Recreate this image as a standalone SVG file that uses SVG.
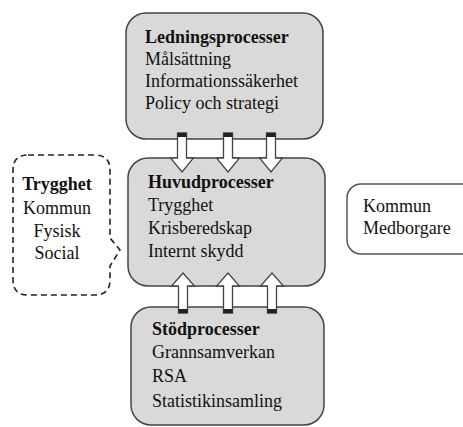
<svg xmlns="http://www.w3.org/2000/svg" width="463" height="427" viewBox="0 0 463 427">
  <style>
    .box { fill: #d9d9d9; stroke: #444; stroke-width: 1.5; }
    .plain { fill: #fff; stroke: #555; stroke-width: 1.5; }
    .bubble { fill: #fff; stroke: #222; stroke-width: 1.6; stroke-dasharray: 6 4; }
    .arrow { fill: #fff; stroke: #444; stroke-width: 1.3; stroke-linejoin: miter; }
    .cap { fill: #222; }
    text { font-family: "Liberation Serif", "Times New Roman", serif; font-size: 18px; fill: #111; }
    .b { font-weight: bold; }
  </style>
  <defs>
    <!-- block arrow pointing down, origin at shaft top centre -->
    <g id="downArrow">
      <path class="arrow" d="M -4.5,0 H 4.5 V 25 H 11.5 L 0,39 L -11.5,25 H -4.5 Z"/>
      <rect class="cap" x="-4.5" y="0" width="9" height="4"/>
    </g>
    <!-- block arrow pointing up, origin at shaft bottom centre -->
    <g id="upArrow">
      <path class="arrow" d="M -4.5,0 H 4.5 V -27 H 11.5 L 0,-40 L -11.5,-27 H -4.5 Z"/>
      <rect class="cap" x="-4.5" y="-4" width="9" height="4"/>
    </g>
  </defs>

  <g id="ledning">
    <rect class="box" x="126" y="13" width="197" height="126" rx="20"/>
    <text class="b" x="145" y="43">Ledningsprocesser</text>
    <text x="145" y="65">Målsättning</text>
    <text x="145" y="87">Informationssäkerhet</text>
    <text x="145" y="109">Policy och strategi</text>
  </g>

  <g id="huvud">
    <rect class="box" x="128" y="158" width="197" height="128" rx="20"/>
    <text class="b" x="148" y="188">Huvudprocesser</text>
    <text x="148" y="211">Trygghet</text>
    <text x="148" y="234">Krisberedskap</text>
    <text x="148" y="257">Internt skydd</text>
  </g>

  <g id="stod">
    <rect class="box" x="131" y="307" width="193" height="118" rx="20"/>
    <text class="b" x="152" y="335">Stödprocesser</text>
    <text x="152" y="358">Grannsamverkan</text>
    <text x="152" y="382">RSA</text>
    <text x="152" y="407">Statistikinsamling</text>
  </g>

  <g id="trygghet">
    <path class="bubble" d="M 28,155 H 95 Q 110,155 110,170 V 238 L 120,250 L 110,266 V 280 Q 110,295 95,295 H 28 Q 13,295 13,280 V 170 Q 13,155 28,155 Z"/>
    <text class="b" x="57" y="190" text-anchor="middle">Trygghet</text>
    <text x="57" y="214" text-anchor="middle">Kommun</text>
    <text x="57" y="237" text-anchor="middle">Fysisk</text>
    <text x="57" y="259" text-anchor="middle">Social</text>
  </g>

  <g id="kommun">
    <rect class="plain" x="347" y="184" width="130" height="70" rx="14"/>
    <text x="363" y="212">Kommun</text>
    <text x="363" y="234">Medborgare</text>
  </g>

  <g id="connectors">
    <use href="#downArrow" x="182" y="133"/>
    <use href="#downArrow" x="228" y="133"/>
    <use href="#downArrow" x="271" y="133"/>
    <use href="#upArrow" x="183" y="313"/>
    <use href="#upArrow" x="228" y="313"/>
    <use href="#upArrow" x="272" y="313"/>
  </g>
</svg>
